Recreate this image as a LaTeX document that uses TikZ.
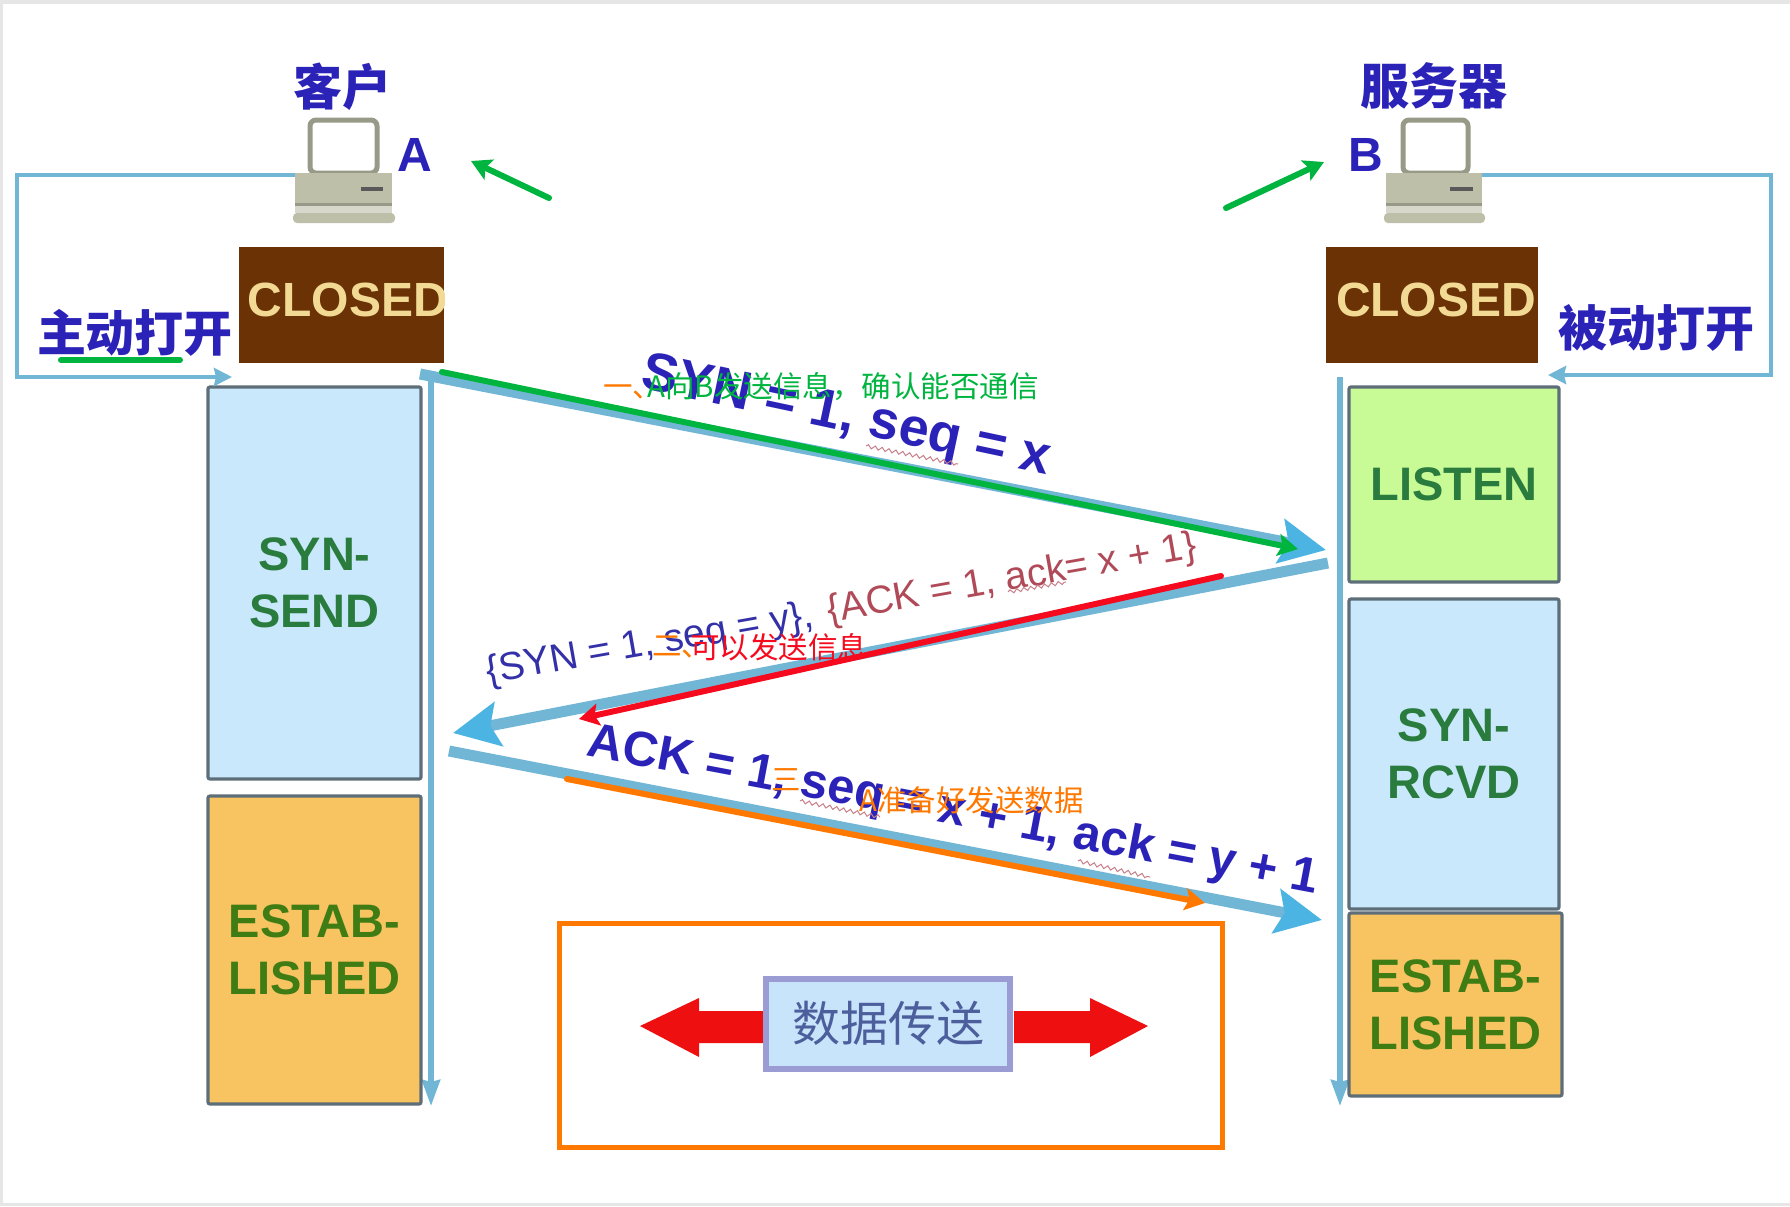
\documentclass[tikz,border=0pt]{standalone}
\usepackage{fontspec}
\setmainfont{Liberation Sans}
\newfontfamily\cjk{Noto Sans CJK SC}
\usetikzlibrary{arrows.meta,decorations.pathmorphing}
\definecolor{flowblue}{HTML}{72B6D6}
\definecolor{headblue}{HTML}{4BB4E2}
\definecolor{inkblue}{HTML}{2B22B8}
\definecolor{skyfill}{HTML}{C9E8FC}
\definecolor{limefill}{HTML}{C8FA96}
\definecolor{amberfill}{HTML}{F8C462}
\definecolor{boxedge}{HTML}{5E6E78}
\definecolor{closedbrown}{HTML}{6B3206}
\definecolor{sand}{HTML}{F2DA94}
\definecolor{stategreen}{HTML}{2A7C3E}
\definecolor{estgreen}{HTML}{3F7C14}
\definecolor{pcbody}{HTML}{BDBFA8}
\definecolor{pcedge}{HTML}{989A88}
\definecolor{markgreen}{HTML}{00B53F}
\definecolor{markred}{HTML}{F50A1E}
\definecolor{markorange}{HTML}{FF7800}
\definecolor{framegray}{HTML}{E6E6E6}
\definecolor{datablue}{HTML}{C8E4FA}
\definecolor{dataedge}{HTML}{9C9CD4}
\definecolor{datatext}{HTML}{4C5E9C}
\definecolor{rosetext}{HTML}{B04A58}
\definecolor{navytext}{HTML}{3330A8}
\definecolor{bigred}{HTML}{EE1010}
\newcommand{\pcdraw}[4]{%
  \filldraw[draw=pcedge,line width=2.5pt,fill=white,rounded corners=3pt] (#1,120) -- (#1,173) -- (#2,173) -- (#2,120) -- cycle;
  \fill[pcbody] (#3,173) rectangle (#4,203);
  \fill[pcedge] (#3,203) rectangle (#4,206);
  \fill[pcbody!60] (#3,206) rectangle (#4,213);
  \fill[pcbody,rounded corners=2pt] (#3-2,213) rectangle (#4+3,223);
}
\tikzset{
  x=0.5pt,y=-0.5pt,
  statebox/.style={draw=boxedge,line width=1.6pt,rounded corners=1pt,inner sep=0pt,align=center,font=\bfseries\fontsize{23.5}{28.5}\selectfont},
  closedbox/.style={fill=closedbrown,inner sep=0pt},
  closedtext/.style={text=sand,inner sep=0pt,font=\bfseries\fontsize{24}{28}\selectfont},
  cjkhead/.style={text=inkblue,inner sep=0pt,font=\cjk\bfseries\fontsize{24.5}{28}\selectfont},
  letterhead/.style={text=inkblue,inner sep=0pt,font=\bfseries\fontsize{24}{28}\selectfont},
  flow/.style={draw=flowblue,line width=2.4pt},
  flowtip/.style={-{Stealth[length=9pt,width=9pt,inset=1pt]}},
  bigflow/.style={draw=flowblue,line width=5.5pt,-{Stealth[length=23pt,width=22pt,inset=4pt,color=headblue]}},
  thinflow/.style={draw=flowblue,line width=2.6pt,-{Stealth[length=13pt,width=9pt,inset=1pt]}},
  markline/.style={line width=3pt,line cap=round,-{Stealth[length=10pt,width=11pt,inset=2pt]}},
  handnote/.style={inner sep=0pt,anchor=west,font=\cjk\fontsize{14.75}{18}\selectfont},
  seqtext/.style={inner sep=0pt,text=inkblue,font=\bfseries},
  squiggle/.style={draw=rosetext!70,line width=0.5pt,decorate,decoration={snake,amplitude=0.9pt,segment length=3.5pt}},
}
\begin{document}
\begin{tikzpicture}
\useasboundingbox (0,0) rectangle (1790,1206);
\fill[white] (0,0) rectangle (1790,1206);
% page edge
\fill[framegray] (0,0) rectangle (1790,4);
\fill[framegray] (0,0) rectangle (3,1206);
\fill[framegray] (0,1203) rectangle (1790,1206);

% computers
\pcdraw{310}{377}{295}{392}
\fill[black!65] (361,187) rectangle (383,191);
\pcdraw{1403}{1468}{1386}{1482}
\fill[black!65] (1450,187) rectangle (1473,191);
\coordinate (pcA) at (295,175);
\coordinate (pcB) at (1482,175);

% headings
\node[cjkhead] (client) at (342,87) {客户};
\node[cjkhead] (server) at (1434,86) {服务器};
\node[letterhead] (letterA) at (415,155) {A};
\node[letterhead] (letterB) at (1366,155) {B};

% closed
\node[closedbox,minimum width=102.5pt,minimum height=58pt] (closedA) at (341.5,305) {};
\node[closedbox,minimum width=106pt,minimum height=58pt] (closedB) at (1432,305) {};
\begin{scope}
  \clip (239,247) rectangle (444,363);
  \node[closedtext] (closedAtext) at (348,300) {CLOSED};
\end{scope}
\node[closedtext] (closedBtext) at (1436,300) {CLOSED};

% open labels
\node[cjkhead] (activeopen) at (135,333) {主动打开};
\node[cjkhead] (passiveopen) at (1656,328) {被动打开};

% vertical time lines
\coordinate (timeAtop) at (431,375);
\coordinate (timeAend) at (431,1106);
\coordinate (timeBtop) at (1340,377);
\coordinate (timeBend) at (1340,1106);
\draw[thinflow] (timeAtop) -- (timeAend);
\draw[thinflow] (timeBtop) -- (timeBend);

% state boxes left
\node[statebox,fill=skyfill,text=stategreen,minimum width=106.5pt,minimum height=196pt] (synsend) at (314.5,583) {SYN-\\SEND};
\node[statebox,fill=amberfill,text=estgreen,minimum width=106.5pt,minimum height=154pt] (estA) at (314.5,950) {ESTAB-\\LISHED};
% state boxes right
\node[statebox,fill=limefill,text=stategreen,minimum width=105pt,minimum height=97.5pt] (listen) at (1454,484.5) {LISTEN};
\node[statebox,fill=skyfill,text=stategreen,minimum width=105pt,minimum height=155pt] (synrcvd) at (1454,754) {SYN-\\RCVD};
\node[statebox,fill=amberfill,text=estgreen,minimum width=106.5pt,minimum height=91.5pt] (estB) at (1455.5,1004.5) {ESTAB-\\LISHED};

% open loops
\coordinate (loopAa) at (17,175);
\coordinate (loopAb) at (17,377);
\coordinate (loopAc) at (232,377);
\coordinate (loopBa) at (1771,175);
\coordinate (loopBb) at (1771,375);
\coordinate (loopBc) at (1548,375);
\draw[flow,flowtip] (pcA) -- (loopAa) -- (loopAb) -- (loopAc);
\draw[flow,flowtip] (pcB) -- (loopBa) -- (loopBb) -- (loopBc);

% message arrows
\coordinate (m1a) at (420,374);
\coordinate (m1b) at (1326,550);
\coordinate (m2a) at (1328,563);
\coordinate (m2b) at (453,733);
\coordinate (m3a) at (449,751);
\coordinate (m3b) at (1322,920);
\draw[bigflow] (m1a) -- (m1b);
\draw[bigflow] (m2a) -- (m2b);
\draw[bigflow] (m3a) -- (m3b);

% message labels
\node[seqtext,rotate=-12,font=\bfseries\fontsize{27}{32}\selectfont] (msg1) at (846,418) {SYN = 1, seq = x};
\node[inner sep=0pt,rotate=10,text=navytext,font=\fontsize{19.5}{24}\selectfont] (msg2a) at (650,645) {\{SYN = 1, seq = y\},};
\node[inner sep=0pt,rotate=10,text=rosetext,font=\fontsize{19.5}{24}\selectfont] (msg2b) at (1012,580) {\{ACK = 1, ack= x + 1\}};
\node[seqtext,rotate=-10.7,font=\bfseries\fontsize{24.5}{30}\selectfont] (msg3) at (953,812) {ACK = 1, seq = x + 1, ack = y + 1};
% spell-check marks
\coordinate (sq1a) at (866,446); \coordinate (sq1b) at (958,464);
\coordinate (sq2a) at (1008,592); \coordinate (sq2b) at (1066,582);
\coordinate (sq3a) at (800,801); \coordinate (sq3b) at (880,817);
\coordinate (sq4a) at (1078,861); \coordinate (sq4b) at (1150,877);
\draw[squiggle] (sq1a) -- (sq1b);
\draw[squiggle] (sq2a) -- (sq2b);
\draw[squiggle] (sq3a) -- (sq3b);
\draw[squiggle] (sq4a) -- (sq4b);

% data transfer
\coordinate (dl1) at (763,1011); \coordinate (dl2) at (699,1011); \coordinate (dl3) at (699,998);
\coordinate (dl4) at (640,1026); \coordinate (dl5) at (699,1057); \coordinate (dl6) at (699,1043); \coordinate (dl7) at (763,1043);
\fill[bigred] (dl1) -- (dl2) -- (dl3) -- (dl4) -- (dl5) -- (dl6) -- (dl7) -- cycle;
\coordinate (dr1) at (1014,1011); \coordinate (dr2) at (1090,1011); \coordinate (dr3) at (1090,998);
\coordinate (dr4) at (1148,1026); \coordinate (dr5) at (1090,1057); \coordinate (dr6) at (1090,1043); \coordinate (dr7) at (1014,1043);
\fill[bigred] (dr1) -- (dr2) -- (dr3) -- (dr4) -- (dr5) -- (dr6) -- (dr7) -- cycle;
\node[draw=dataedge,line width=3pt,fill=datablue,text=datatext,inner sep=0pt,minimum width=122pt,minimum height=45pt,font=\cjk\fontsize{24}{28}\selectfont] (data) at (888,1023.5) {\raisebox{-1pt}{数据传送}};

% hand-drawn overlay
\draw[markorange,line width=2.5pt] (559,923) rectangle (1222,1147);
\coordinate (g1a) at (549,198); \coordinate (g1b) at (471,161);
\coordinate (g2a) at (1226,208); \coordinate (g2b) at (1324,162);
\coordinate (u1) at (61,360); \coordinate (u2) at (180,360);
\coordinate (g3a) at (442,372); \coordinate (g3b) at (1298,549);
\coordinate (r1a) at (1221,576); \coordinate (r1b) at (579,719);
\coordinate (o1a) at (567,779); \coordinate (o1b) at (1205,903);
\draw[markline,markgreen] (g1a) -- (g1b);
\draw[markline,markgreen] (g2a) -- (g2b);
\draw[markgreen,line width=3pt,line cap=round] (u1) -- (u2);
\draw[markline,markgreen] (g3a) -- (g3b);
\draw[markline,markred] (r1a) -- (r1b);
\draw[markline,markorange] (o1a) -- (o1b);

\node[handnote,text=markorange] (n1) at (603,392) {一、};
\node[handnote,text=markgreen] (t1) at (647,387) {A向B发送信息，确认能否通信};
\node[handnote,text=markorange] (n2) at (652,647) {二、};
\node[handnote,text=markred] (t2) at (690,647) {可以发送信息};
\node[handnote,text=markorange] (n3) at (771,780) {三};
\node[handnote,text=markorange] (t3) at (859,800) {A准备好发送数据};
\end{tikzpicture}
\end{document}
